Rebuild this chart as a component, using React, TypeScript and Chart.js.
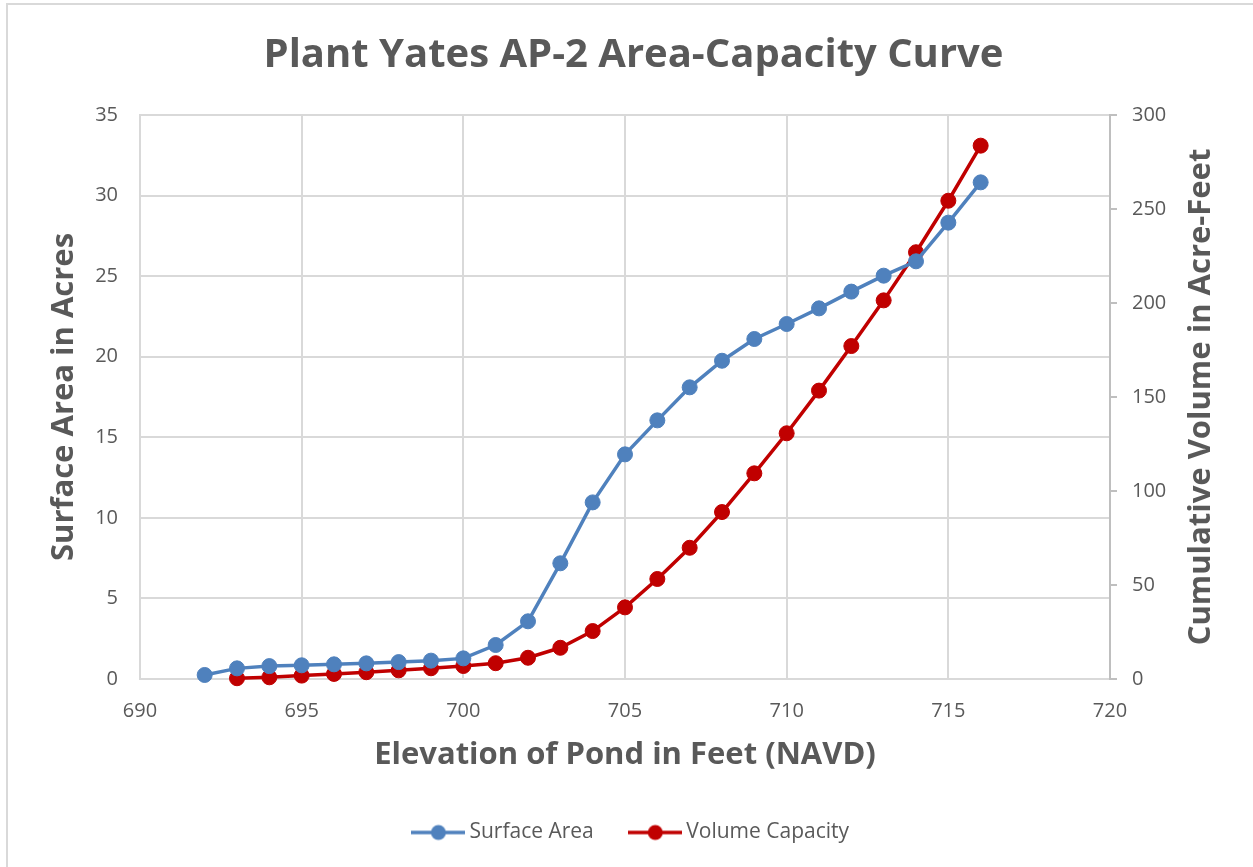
import React, { useEffect, useRef } from "react";
import { Chart, registerables } from "chart.js";

Chart.register(...registerables);

const chartTitle = "Plant Yates AP-2 Area-Capacity Curve";
const xAxisTitle = "Elevation of Pond in Feet (NAVD)";
const leftAxisTitle = "Surface Area in Acres";
const rightAxisTitle = "Cumulative Volume in Acre-Feet";

const areaLabel = "Surface Area";
const volumeLabel = "Volume Capacity";

const areaElevation = [692, 693, 694, 695, 696, 697, 698, 699, 700, 701, 702, 703, 704, 705, 706, 707, 708, 709, 710, 711, 712, 713, 714, 715, 716];
const areaAcres = [0.25, 0.66, 0.8, 0.85, 0.91, 0.97, 1.05, 1.14, 1.28, 2.11, 3.58, 7.18, 10.96, 13.94, 16.05, 18.1, 19.75, 21.1, 22.03, 23.0, 24.04, 25.03, 25.92, 28.32, 30.82];

const volumeElevation = [693, 694, 695, 696, 697, 698, 699, 700, 701, 702, 703, 704, 705, 706, 707, 708, 709, 710, 711, 712, 713, 714, 715, 716];
const volumeAcreFeet = [0.4, 0.9, 1.8, 2.7, 3.6, 4.6, 5.7, 6.9, 8.4, 11.3, 16.6, 25.5, 38.1, 53.2, 69.8, 88.8, 109.4, 130.7, 153.4, 177.1, 201.4, 227.0, 254.4, 283.7];

const xMin = 690, xMax = 720, xStep = 5;
const leftMin = 0, leftMax = 35, leftStep = 5;
const rightMin = 0, rightMax = 300, rightStep = 50;

const BLUE = "#4f81bd";
const RED = "#c00000";
const TEXT = "#595959";
const GRID = "#d9d9d9";
const FONT = "'Open Sans', 'DejaVu Sans', sans-serif";

function makeIcon(color: string): HTMLCanvasElement {
  const c = document.createElement("canvas");
  c.width = 54;
  c.height = 18;
  const g = c.getContext("2d")!;
  g.strokeStyle = color;
  g.lineWidth = 3.5;
  g.beginPath();
  g.moveTo(0, 9);
  g.lineTo(54, 9);
  g.stroke();
  g.fillStyle = color;
  g.beginPath();
  g.arc(27, 9, 7.5, 0, Math.PI * 2);
  g.fill();
  return c;
}

export default function App() {
  const ref = useRef<HTMLCanvasElement | null>(null);

  useEffect(() => {
    document.body.style.margin = "0";
    const canvas = ref.current!;
    const icons = [makeIcon(BLUE), makeIcon(RED)];

    const decor = {
      id: "decor",
      beforeDraw(chart: any) {
        const ctx = chart.ctx;
        ctx.save();
        ctx.fillStyle = "#ffffff";
        ctx.fillRect(0, 0, chart.width, chart.height);
        ctx.strokeStyle = GRID;
        ctx.lineWidth = 2;
        ctx.beginPath();
        ctx.moveTo(7, chart.height);
        ctx.lineTo(7, 4);
        ctx.lineTo(chart.width, 4);
        ctx.stroke();
        ctx.restore();
      },
      afterDraw(chart: any) {
        const ctx = chart.ctx;
        const area = chart.chartArea;
        ctx.save();
        ctx.translate(1201, (area.top + area.bottom) / 2);
        ctx.rotate(-Math.PI / 2);
        ctx.font = `bold 31px ${FONT}`;
        ctx.fillStyle = TEXT;
        ctx.textAlign = "center";
        ctx.textBaseline = "middle";
        ctx.fillText(rightAxisTitle, 0, 0);
        ctx.restore();
      },
    };

    const chart = new Chart(canvas, {
      type: "line",
      data: {
        datasets: [
          {
            label: areaLabel,
            data: areaElevation.map((x, i) => ({ x, y: areaAcres[i] })),
            borderColor: BLUE,
            backgroundColor: BLUE,
            borderWidth: 3.5,
            pointRadius: 7.5,
            pointBorderWidth: 1,
            pointBackgroundColor: BLUE,
            pointBorderColor: BLUE,
            yAxisID: "y",
            clip: false,
            tension: 0,
          },
          {
            label: volumeLabel,
            data: volumeElevation.map((x, i) => ({ x, y: volumeAcreFeet[i] })),
            borderColor: RED,
            backgroundColor: RED,
            borderWidth: 3.5,
            pointRadius: 7.5,
            pointBorderWidth: 1,
            pointBackgroundColor: RED,
            pointBorderColor: RED,
            yAxisID: "y1",
            clip: false,
            tension: 0,
          },
        ],
      },
      options: {
        animation: false,
        responsive: false,
        maintainAspectRatio: false,
        devicePixelRatio: 1,
        layout: { padding: { left: 14, right: 0, top: 0, bottom: 14 } },
        plugins: {
          tooltip: { enabled: false },
          title: {
            display: true,
            text: chartTitle,
            color: TEXT,
            font: { family: FONT, size: 40, weight: "bold" },
            padding: { top: 32, bottom: 35 },
          },
          legend: {
            display: true,
            position: "bottom",
            labels: {
              color: TEXT,
              font: { family: FONT, size: 21 },
              usePointStyle: true,
              pointStyleWidth: 41,
              padding: 41,
              generateLabels(ch: any) {
                const base = Chart.defaults.plugins.legend.labels.generateLabels(ch);
                return base.map((it: any, i: number) => ({ ...it, pointStyle: icons[i] }));
              },
            },
          },
        },
        scales: {
          x: {
            type: "linear",
            position: "bottom",
            min: xMin,
            max: xMax,
            afterFit(s: any) { s.height = 102; },
            ticks: {
              stepSize: xStep,
              color: TEXT,
              font: { family: FONT, size: 20 },
              padding: 20,
              maxRotation: 0,
            },
            grid: { color: GRID, lineWidth: 2, drawTicks: false },
            border: { display: true, color: GRID, width: 2 },
            title: {
              display: true,
              text: xAxisTitle,
              color: TEXT,
              font: { family: FONT, size: 31, weight: "bold" },
              padding: { top: 0, bottom: 7 },
            },
          },
          y: {
            type: "linear",
            position: "left",
            min: leftMin,
            max: leftMax,
            afterFit(s: any) { s.width = 126; },
            ticks: {
              stepSize: leftStep,
              color: TEXT,
              font: { family: FONT, size: 20 },
              padding: 22,
            },
            grid: { color: GRID, lineWidth: 2, drawTicks: false },
            border: { display: true, color: GRID, width: 2 },
            title: {
              display: true,
              text: leftAxisTitle,
              color: TEXT,
              font: { family: FONT, size: 31, weight: "bold" },
              padding: { top: 32, bottom: 0 },
            },
          },
          y1: {
            type: "linear",
            position: "right",
            min: rightMin,
            max: rightMax,
            afterFit(s: any) { s.width = 143; },
            ticks: {
              stepSize: rightStep,
              color: TEXT,
              font: { family: FONT, size: 20 },
              padding: 15,
            },
            grid: { drawOnChartArea: false, drawTicks: true, tickLength: 7, color: "#bfbfbf", lineWidth: 2 },
            border: { display: true, color: "#bfbfbf", width: 2 },
          },
        },
      },
      plugins: [decor],
    } as any);

    return () => chart.destroy();
  }, []);

  return (
    <div style={{ position: "relative", width: 1253, height: 867 }}>
      <canvas ref={ref} width={1253} height={867} style={{ display: "block", width: 1253, height: 867 }} />
    </div>
  );
}
